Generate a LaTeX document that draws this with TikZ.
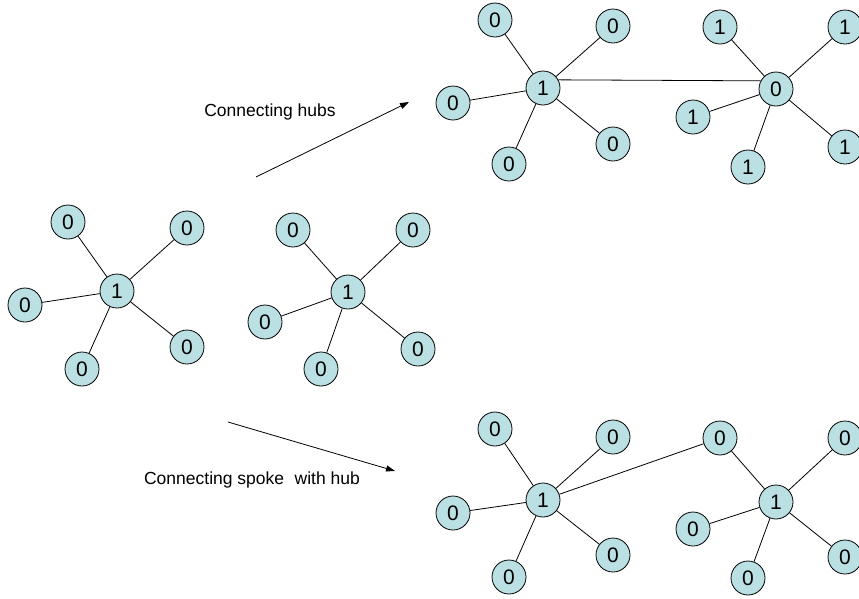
\documentclass[tikz,border=0pt]{standalone}
\usepackage{fontspec}
\setmainfont{Liberation Sans}
\usetikzlibrary{arrows.meta}
\definecolor{nodefill}{RGB}{187,224,227}
\tikzset{
  vtx/.style={circle, draw=black, line width=0.8pt, fill=nodefill, minimum size=34pt, inner sep=0pt, font=\fontsize{21}{21}\selectfont},
  edge/.style={draw=black, line width=0.8pt},
  bigarrow/.style={draw=black, line width=0.8pt, -{Triangle[length=9pt,width=6pt]}},
  lbl/.style={font=\fontsize{17.5}{17.5}\selectfont, anchor=base, inner sep=0pt}
}
\begin{document}
\begin{tikzpicture}[x=1pt, y=-1pt]
\clip (0,0) rectangle (859,598);
\fill[white] (0,0) rectangle (859,598);
% star A
\node[vtx] (a) at (117,291) {1};
\node[vtx] (a1) at (68,222) {0};
\node[vtx] (a2) at (187,228) {0};
\node[vtx] (a3) at (25,305) {0};
\node[vtx] (a4) at (82,369) {0};
\node[vtx] (a5) at (187,347) {0};
\foreach \i in {1,...,5} \draw[edge] (a) -- (a\i);
% star B
\node[vtx] (b) at (348,292) {1};
\node[vtx] (b1) at (293,230) {0};
\node[vtx] (b2) at (413,230) {0};
\node[vtx] (b3) at (265,322) {0};
\node[vtx] (b4) at (321,369) {0};
\node[vtx] (b5) at (418,349) {0};
\foreach \i in {1,...,5} \draw[edge] (b) -- (b\i);
% star C (top left)
\node[vtx] (c) at (543,88) {1};
\node[vtx] (c1) at (495,20) {0};
\node[vtx] (c2) at (613,26) {0};
\node[vtx] (c3) at (453,103) {0};
\node[vtx] (c4) at (509,164) {0};
\node[vtx] (c5) at (613,144) {0};
\foreach \i in {1,...,5} \draw[edge] (c) -- (c\i);
% star D (top right)
\node[vtx] (d) at (776,89) {0};
\node[vtx] (d1) at (720,27) {1};
\node[vtx] (d2) at (845,27) {1};
\node[vtx] (d3) at (693,117) {1};
\node[vtx] (d4) at (748,167) {1};
\node[vtx] (d5) at (845,147) {1};
\foreach \i in {1,...,5} \draw[edge] (d) -- (d\i);
\draw[edge] (c.28) -- (d.152);
% star E (bottom left)
\node[vtx] (e) at (543,500) {1};
\node[vtx] (e1) at (495,429) {0};
\node[vtx] (e2) at (613,437) {0};
\node[vtx] (e3) at (453,513) {0};
\node[vtx] (e4) at (509,577) {0};
\node[vtx] (e5) at (613,555) {0};
\foreach \i in {1,...,5} \draw[edge] (e) -- (e\i);
% star F (bottom right)
\node[vtx] (f) at (776,502) {1};
\node[vtx] (f1) at (720,438) {0};
\node[vtx] (f2) at (845,438) {0};
\node[vtx] (f3) at (693,529) {0};
\node[vtx] (f4) at (748,578) {0};
\node[vtx] (f5) at (845,557) {0};
\foreach \i in {1,...,5} \draw[edge] (f) -- (f\i);
\draw[edge] (e) -- (f1);
% arrows and labels
\coordinate (p1) at (256,177);
\coordinate (p2) at (409,102);
\coordinate (p3) at (228,422);
\coordinate (p4) at (395,471);
\draw[bigarrow] (p1) -- (p2);
\draw[bigarrow] (p3) -- (p4);
\node[lbl] (t1) at (270,116) {Connecting hubs};
\node[lbl] (t2) at (252,484) {Connecting spoke\hspace{0.6em}with hub};
\end{tikzpicture}
\end{document}
